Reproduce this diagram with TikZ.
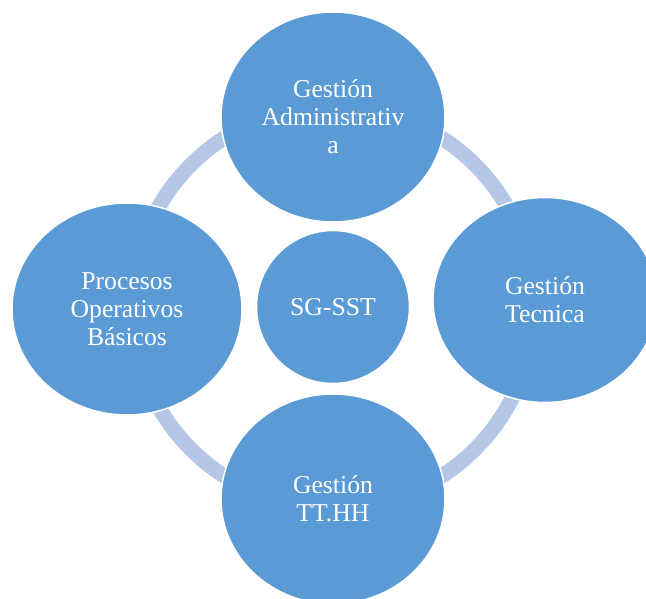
\documentclass[tikz,border=0pt]{standalone}
\usepackage{fontspec}
\setmainfont{Liberation Serif}
\usetikzlibrary{shapes.geometric}
\definecolor{bolablue}{RGB}{91,155,213}
\definecolor{aroblue}{RGB}{180,199,231}
\begin{document}
\begin{tikzpicture}[x=1pt,y=1pt,
        bola/.style={ellipse,fill=bolablue,draw=white,line width=1.5pt,
            inner sep=0pt,text=white,align=center,text width=150pt,
            font=\fontsize{25.7}{28}\selectfont},
        aro/.style={draw=aroblue,line width=15pt}]
                \useasboundingbox
                    (0,0) rectangle (646,599);
                \node[bola,minimum width=153pt,minimum height=153pt,text width=95pt]
                    (sgsst) at (333,292) {SG-SST};
                \draw[aro]
                    (sgsst.center) circle (201);
                \node[bola,minimum width=224pt,minimum height=210pt]
                    (admin) at (333,482) {Gestión\\ Administrativ\\ a};
                \node[bola,minimum width=224pt,minimum height=205pt]
                    (tecnica) at (545,299) {Gestión\\ Tecnica};
                \node[bola,minimum width=224pt,minimum height=210pt]
                    (tthh) at (333,100) {Gestión\\ TT.HH};
                \node[bola,minimum width=230pt,minimum height=212pt]
                    (procesos) at (127,290) {Procesos\\ Operativos\\ Básicos};
            \end{tikzpicture}
\end{document}
